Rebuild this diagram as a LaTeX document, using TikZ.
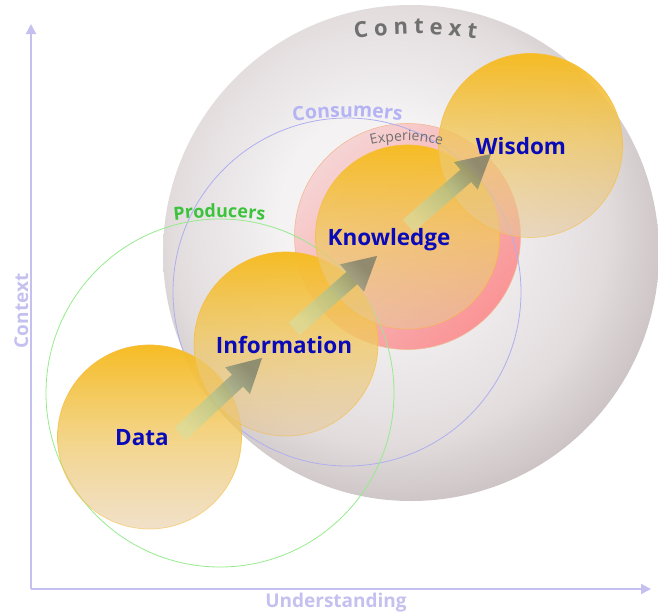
\documentclass[tikz,border=0pt]{standalone}
\usepackage{fontspec}
\setmainfont{Open Sans}
\usetikzlibrary{arrows.meta,shapes.arrows,calc,decorations.text,fadings}

\definecolor{axiscol}{RGB}{196,192,240}
\definecolor{sphin}{RGB}{244,242,243}
\definecolor{sphmid}{RGB}{226,220,221}
\definecolor{sphout}{RGB}{192,182,183}
\definecolor{disctop}{RGB}{246,188,36}
\definecolor{discmid}{RGB}{240,200,100}
\definecolor{discbot}{RGB}{230,200,155}
\definecolor{discedge}{RGB}{246,190,60}
\definecolor{labblue}{RGB}{10,10,185}
\definecolor{prodgreen}{RGB}{60,195,60}
\definecolor{prodline}{RGB}{150,235,140}
\definecolor{conscol}{RGB}{180,180,245}
\definecolor{consline}{RGB}{175,175,240}
\definecolor{expinner}{RGB}{246,212,212}
\definecolor{expouter}{RGB}{250,148,150}
\definecolor{expedge}{RGB}{242,185,150}
\definecolor{titlegray}{RGB}{112,112,112}
\definecolor{arrtail}{RGB}{215,222,160}
\definecolor{arrmid}{RGB}{165,195,150}
\definecolor{arrtip}{RGB}{95,108,98}

\pgfdeclareradialshading{spheresh}{\pgfpoint{-4bp}{5bp}}{color(0bp)=(sphin); color(10bp)=(sphin); color(22bp)=(sphmid); color(31bp)=(sphout); color(50bp)=(sphout)}
\tikzfading[name=discfade, top color=transparent!0, bottom color=transparent!45]

\tikzset{
  axis/.style={draw=axiscol, line width=2pt, -{Triangle[width=10pt,length=10pt]}},
  axislbl/.style={font=\bfseries\fontsize{19}{20}\selectfont, text=axiscol, inner sep=0pt, anchor=base},
  disc/.style={circle, minimum size=184pt, inner sep=0pt, draw=discedge, line width=0.7pt,
    top color=disctop, bottom color=discbot, middle color=discmid, path fading=discfade},
  disclbl/.style={font=\bfseries\fontsize{22.5}{24}\selectfont, text=labblue, inner sep=0pt, anchor=base},
  flowarrow/.style={single arrow, draw=none, inner sep=8pt, single arrow head extend=10pt,
    single arrow tip angle=57, single arrow head indent=0pt,
    top color=arrtip, bottom color=arrtail, middle color=arrmid, shading angle=-47, fill opacity=0.65},
}

% block arrow from one point to another
\newcommand{\flowarrow}[3]{%
  \path let \p1=($(#3)-(#2)$), \n1={atan2(\y1,\x1)}, \n2={veclen(\x1,\y1)} in
    node[flowarrow, rotate=\n1, minimum height=\n2, anchor=tail] (#1) at (#2) {};}

\begin{document}
\begin{tikzpicture}[x=1pt, y=-1pt]
    \useasboundingbox (0,0) rectangle (658,613);

    % Axes
    \coordinate (origin) at (31,589);
    \coordinate (ytop) at (31,24);
    \coordinate (xend) at (651,589);
    \draw[axis] (origin) -- (ytop);
    \draw[axis] (origin) -- (xend);
    \node[axislbl, rotate=90] (ylbl) at (28,311) {Context};
    \node[axislbl] (xlbl) at (336,607) {Understanding};

    % Context sphere
    \coordinate (sph) at (411,253);
    \shade[shading=spheresh] (sph) circle (248);

    % Experience ring
    \coordinate (exp) at (407.5,236.5);
    \shade[top color=expinner, bottom color=expouter, shading angle=45] (exp) circle (113);
    \draw[expedge, line width=0.6pt] (exp) circle (113);

    % Consumers and producers
    \coordinate (cons) at (347,292);
    \coordinate (prod) at (220,393);
    \draw[consline, line width=0.8pt] (cons) circle (174);
    \draw[prodline, line width=0.8pt] (prod) circle (174);

    % Discs
    \foreach \n/\p in {data/{149.5,437}, info/{286,344}, know/{407.5,237}, wis/{530.5,145.5}}
        \node[disc] (\n) at (\p) {};

    % Arrows between the discs
    \coordinate (a1s) at (180,434); \coordinate (a1e) at (262,358);
    \coordinate (a2s) at (294,329); \coordinate (a2e) at (377,256);
    \coordinate (a3s) at (408,226); \coordinate (a3e) at (491,154);
    \flowarrow{arr1}{a1s}{a1e}
    \flowarrow{arr2}{a2s}{a2e}
    \flowarrow{arr3}{a3s}{a3e}

    % Disc labels
    \node[disclbl] (datatxt) at (142,445) {Data};
    \node[disclbl] (infotxt) at (284,353) {Information};
    \node[disclbl] (knowtxt) at (389,245.5) {Knowledge};
    \node[disclbl] (wistxt) at (521,154) {Wisdom};

    % Curved labels
    \path (415.5,434) ++(261.3:400) coordinate (ctxstart);
    \path[decorate, decoration={text along path, text align=fit to path,
        text={|\bfseries\fontsize{22}{22}\selectfont\color{titlegray}|Context}}]
        (ctxstart) arc (261.3:278.7:400);
    \path (347.5,482) ++(258:365) coordinate (consstart);
    \path[decorate, decoration={text along path, text align=center,
        text={|\bfseries\fontsize{19.5}{20}\selectfont\color{conscol}|Consumers}}]
        (consstart) arc (258:282:365);
    \path (219.5,617.5) ++(261:400) coordinate (prodstart);
    \path[decorate, decoration={text along path, text align=center,
        text={|\bfseries\fontsize{18}{18}\selectfont\color{prodgreen}|Producers}}]
        (prodstart) arc (261:279:400);
    \path (406.5,290.7) ++(250:150) coordinate (expstart);
    \path[decorate, decoration={text along path, text align=center,
        text={|\fontsize{14}{14}\selectfont\color{titlegray}|Experience}}]
        (expstart) arc (250:290:150);
\end{tikzpicture}
\end{document}
